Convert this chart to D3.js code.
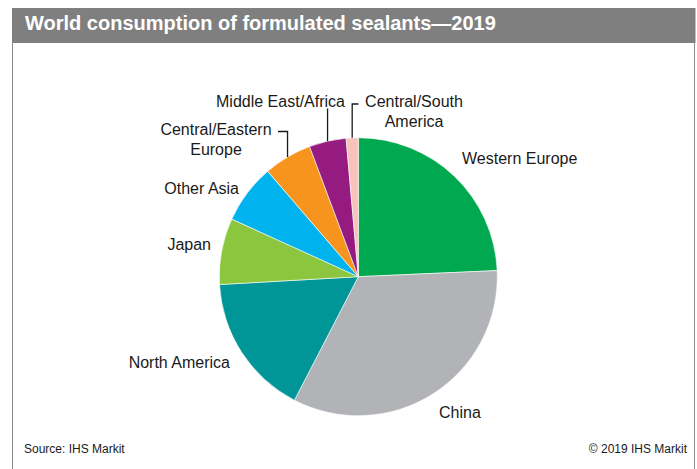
<!DOCTYPE html>
<html>
<head>
<meta charset="utf-8">
<script src="https://cdn.jsdelivr.net/npm/d3@7"></script>
<style>
  body { margin: 0; background: #fff; }
  svg { display: block; font-family: "Liberation Sans", Arial, sans-serif; }
</style>
</head>
<body>
<div id="chart"></div>
<script>
// data (share of world consumption, %)
var regions = ["Western Europe", "China", "North America", "Japan", "Other Asia",
               "Central/Eastern Europe", "Middle East/Africa", "Central/South America"];
var shares = [24.3, 33.3, 16.5, 7.7, 6.9, 5.6, 4.3, 1.4];
var colors = ["#00a94f", "#b2b3b7", "#009597", "#8cc63f", "#00b3ef", "#f7941d", "#951b80", "#f8c1ba"];

var W = 697, H = 469;
var cx = 358.3, cy = 276.7, R = 139;

var svg = d3.select("#chart").append("svg")
    .attr("width", W)
    .attr("height", H);

// frame + title bar
svg.append("rect")
    .attr("x", 12).attr("y", 8)
    .attr("width", 683.5).attr("height", 35)
    .attr("fill", "#7f7f7f");
svg.append("line")
    .attr("x1", 12.5).attr("x2", 12.5).attr("y1", 43).attr("y2", H)
    .attr("stroke", "#8c8c8c").attr("stroke-width", 1);
svg.append("line")
    .attr("x1", 694.5).attr("x2", 694.5).attr("y1", 43).attr("y2", H)
    .attr("stroke", "#8c8c8c").attr("stroke-width", 1);
svg.append("text")
    .attr("x", 25).attr("y", 30)
    .attr("fill", "#fff")
    .attr("font-weight", "bold")
    .attr("font-size", "20px")
    .text("World consumption of formulated sealants\u20142019");

// pie
var pie = d3.pie().sort(null).value(function(d) { return d; });
var arcs = pie(shares);
var arc = d3.arc().innerRadius(0).outerRadius(R);

var g = svg.append("g").attr("transform", "translate(" + cx + "," + cy + ")");
g.selectAll("path")
    .data(arcs)
    .enter().append("path")
    .attr("d", arc)
    .attr("fill", function(d, i) { return colors[i]; })
    .attr("stroke", "#fff")
    .attr("stroke-width", 0.6);

// point on the rim at the middle of slice i
function rim(i) {
    var a = (arcs[i].startAngle + arcs[i].endAngle) / 2;
    return [cx + R * Math.sin(a), cy - R * Math.cos(a)];
}

// labels: [lines, x, y(baseline of first line), anchor]
var labelPos = [
    [["Western Europe"], 462, 164, "start"],
    [["China"], 439, 418, "start"],
    [["North America"], 230, 368, "end"],
    [["Japan"], 211, 250, "end"],
    [["Other Asia"], 239, 194, "end"],
    [["Central/Eastern", "Europe"], 216, 134.5, "middle"],
    [["Middle East/Africa"], 280.5, 107, "middle"],
    [["Central/South", "America"], 414, 107, "middle"]
];

labelPos.forEach(function(p) {
    var t = svg.append("text")
        .attr("x", p[1]).attr("y", p[2])
        .attr("text-anchor", p[3])
        .attr("font-size", "16px")
        .attr("fill", "#1a1a1a");
    p[0].forEach(function(s, k) {
        t.append("tspan")
            .attr("x", p[1])
            .attr("dy", k === 0 ? 0 : 20)
            .text(s);
    });
});

// leader lines
var line = d3.line();
var pCEE = rim(5), pMEA = rim(6), pCSA = rim(7);
var leaders = [
    [[278, 131.5], [pCEE[0], 131.5], pCEE],
    [[pMEA[0], 108.5], pMEA],
    [[358.5, 104], [pCSA[0], 104], pCSA]
];
svg.selectAll(".leader")
    .data(leaders)
    .enter().append("path")
    .attr("class", "leader")
    .attr("d", line)
    .attr("fill", "none")
    .attr("stroke", "#1a1a1a")
    .attr("stroke-width", 1.3);

// footer
svg.append("text")
    .attr("x", 24).attr("y", 452.5)
    .attr("font-size", "12px")
    .attr("fill", "#1a1a1a")
    .text("Source: IHS Markit");
svg.append("text")
    .attr("x", 687).attr("y", 452.5)
    .attr("text-anchor", "end")
    .attr("font-size", "12px")
    .attr("fill", "#1a1a1a")
    .text("\u00a9 2019 IHS Markit");
</script>
</body>
</html>
